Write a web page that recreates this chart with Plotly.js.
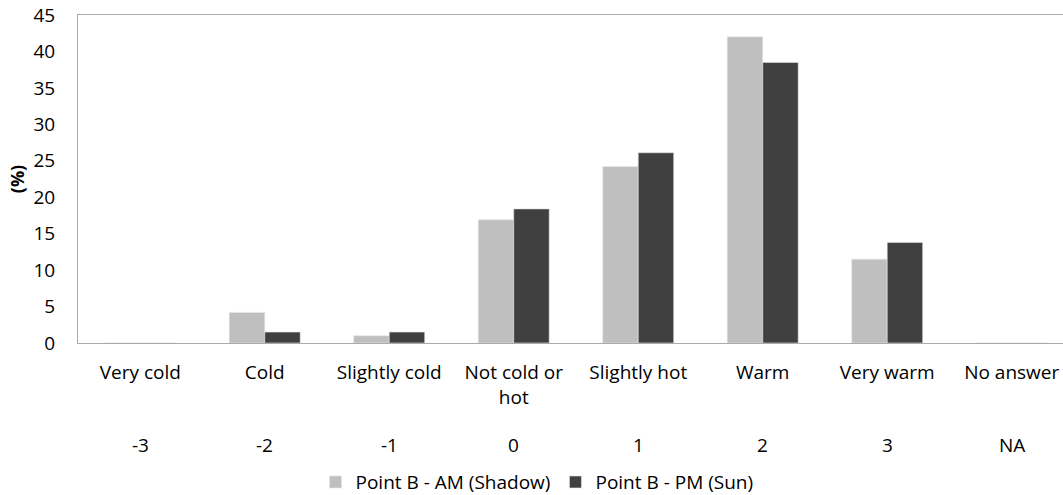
<!DOCTYPE html>
<html>
<head>
<meta charset="utf-8">
<script src="https://cdn.plot.ly/plotly-3.0.1.min.js"></script>
<style>
  html, body { margin: 0; padding: 0; background: #fff; }
  #chart { width: 1063px; height: 495px; }
</style>
</head>
<body>
<div id="chart"></div>
<script>
// Thermal sensation vote categories
const categories = ["Very cold", "Cold", "Slightly cold", "Not cold or hot", "Slightly hot", "Warm", "Very warm", "No answer"];
const categoryLabels = ["Very cold", "Cold", "Slightly cold", "Not cold or<br>hot", "Slightly hot", "Warm", "Very warm", "No answer"];
const scaleCodes = ["-3", "-2", "-1", "0", "1", "2", "3", "NA"];

// Share of answers (%)
const amShadow = [0, 4.2, 1.0, 16.9, 24.2, 42.0, 11.5, 0];
const pmSun = [0, 1.5, 1.5, 18.4, 26.1, 38.5, 13.8, 0];

const seriesNames = ["Point B - AM (Shadow)", "Point B - PM (Sun)"];
const yTicks = [0, 5, 10, 15, 20, 25, 30, 35, 40, 45];

const FONT = "Open Sans, Lato, sans-serif";
const FS = 19;

const traces = [
  {
    type: "bar", name: seriesNames[0], x: categories, y: amShadow,
    marker: { color: "#BFBFBF", line: { color: "#E6E6E6", width: 0.6 } },
    hoverinfo: "x+y"
  },
  {
    type: "bar", name: seriesNames[1], x: categories, y: pmSun,
    marker: { color: "#404040", line: { color: "#E6E6E6", width: 0.6 } },
    hoverinfo: "x+y"
  }
];

// Numeric code row under the category names
const codeAnnotations = categories.map((c, i) => ({
  x: c, xref: "x", y: -0.31, yref: "paper",
  text: scaleCodes[i], showarrow: false,
  xanchor: "center", yanchor: "middle",
  font: { family: FONT, size: FS, color: "#000" }
}));

const layout = {
  width: 1063, height: 495,
  margin: { l: 78, r: 0, t: 15, b: 152, autoexpand: false },
  paper_bgcolor: "#fff", plot_bgcolor: "#fff",
  barmode: "group", bargap: 0.43, bargroupgap: 0,
  font: { family: FONT, size: FS, color: "#000" },
  xaxis: {
    type: "category",
    range: [-0.5, 7.412],
    tickvals: categories, ticktext: categoryLabels,
    showgrid: false, zeroline: false,
    showline: true, linecolor: "#ABABAB", linewidth: 1, mirror: true,
    ticks: "", ticklabelstandoff: 12,
    tickfont: { family: FONT, size: FS, color: "#000" },
    fixedrange: true
  },
  yaxis: {
    range: [0, 45], tickvals: yTicks,
    showgrid: false, zeroline: false,
    showline: true, linecolor: "#ABABAB", linewidth: 1,
    ticks: "", ticklabelstandoff: 18,
    tickfont: { family: FONT, size: FS, color: "#000" },
    title: { text: "(%)", standoff: 4, font: { family: FONT, size: 18, color: "#000", weight: "bold" } },
    fixedrange: true
  },
  legend: {
    orientation: "h", x: 0.466, xanchor: "center",
    yref: "container", y: 0.026, yanchor: "middle",
    font: { family: FONT, size: FS, color: "#000" },
    bgcolor: "rgba(0,0,0,0)"
  },
  annotations: codeAnnotations,
  showlegend: true
};

Plotly.newPlot("chart", traces, layout, { displayModeBar: false, staticPlot: true });
</script>
</body>
</html>
